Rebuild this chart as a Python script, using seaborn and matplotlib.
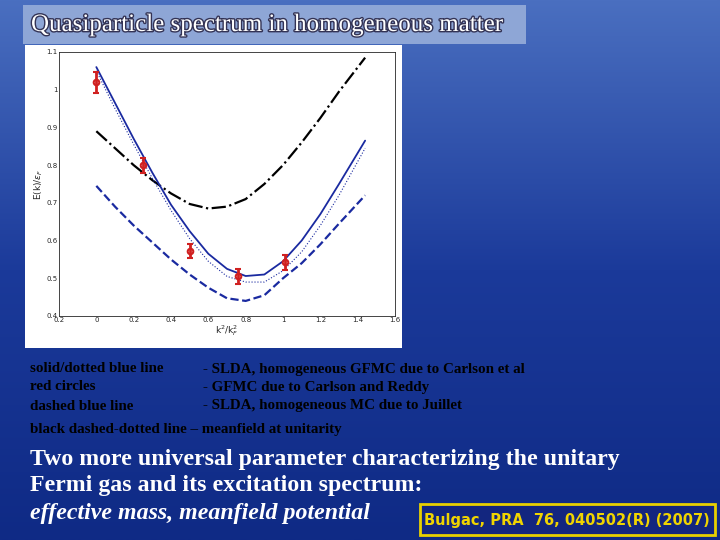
import numpy as np
import matplotlib
matplotlib.use("Agg")
import matplotlib.pyplot as plt
import matplotlib.patheffects as pe
import seaborn as sns

sns.set_style("white")

k2 = [0, 0.1, 0.2, 0.3, 0.4, 0.5, 0.6, 0.7, 0.8, 0.9, 1.0, 1.1, 1.2, 1.3, 1.44]
slda_solid = [1.06, 0.965, 0.87, 0.78, 0.695, 0.625, 0.565, 0.525, 0.506, 0.51, 0.545, 0.6, 0.67, 0.75, 0.865]
slda_dotted = [1.05, 0.95, 0.855, 0.765, 0.68, 0.605, 0.545, 0.505, 0.49, 0.49, 0.52, 0.57, 0.64, 0.72, 0.845]
meanfield = [0.89, 0.845, 0.80, 0.76, 0.725, 0.697, 0.685, 0.69, 0.71, 0.75, 0.80, 0.86, 0.925, 0.995, 1.085]
slda_mc = [0.745, 0.69, 0.64, 0.595, 0.55, 0.51, 0.475, 0.447, 0.44, 0.455, 0.50, 0.54, 0.59, 0.645, 0.72]

gfmc_x = [0, 0.25, 0.5, 0.76, 1.01]
gfmc_y = [1.02, 0.80, 0.573, 0.505, 0.543]
gfmc_err = [0.028, 0.02, 0.018, 0.02, 0.02]

fig = plt.figure(figsize=(7.2, 5.4), dpi=100)

# background gradient
bg = fig.add_axes([0, 0, 1, 1])
bg.set_zorder(-5)
grad = np.linspace(0, 1, 256).reshape(-1, 1)
cmap = matplotlib.colors.LinearSegmentedColormap.from_list("bg", ["#4a6fc0", "#1b3a9a", "#0f2a85"])
bg.imshow(grad, aspect="auto", cmap=cmap, extent=[0, 1, 0, 1], origin="upper")
bg.set_axis_off()

W, H = 720, 540
def box(x0, y0, x1, y1):
    return [x0 / W, 1 - y1 / H, (x1 - x0) / W, (y1 - y0) / H]

# title
fig.patches.append(plt.Rectangle((23 / W, 1 - 44 / H), 503 / W, 39 / H, transform=fig.transFigure,
                                 facecolor="#8ea6d6", edgecolor="none", zorder=0))
fig.text(31 / W, 1 - 25 / H, "Quasiparticle spectrum in homogeneous matter", family="Liberation Serif",
         fontsize=18, color="white", va="center",
         path_effects=[pe.withStroke(linewidth=2, foreground="#333355")])

# white panel
fig.patches.append(plt.Rectangle((25 / W, 1 - 348 / H), 377 / W, 303 / H, transform=fig.transFigure,
                                 facecolor="white", edgecolor="none", zorder=0))

ax = fig.add_axes(box(59, 52, 395, 316))
ax.set_zorder(3)
ax.plot(k2, meanfield, color="black", ls="-.", lw=1.6)
ax.plot(k2, slda_dotted, color="#1a2aa0", ls=":", lw=0.8)
ax.plot(k2, slda_solid, color="#1a2aa0", ls="-", lw=1.3)
ax.plot(k2, slda_mc, color="#1a2aa0", ls="--", lw=1.6)
ax.errorbar(gfmc_x, gfmc_y, yerr=gfmc_err, fmt="o", mfc="none", mec="#d02020", ecolor="#d02020",
            ms=4, mew=1.5, elinewidth=2, capsize=2)
ax.set_xticks([-0.2, 0, 0.2, 0.4, 0.6, 0.8, 1, 1.2, 1.4, 1.6])
ax.set_xticklabels(["0.2", "0", "0.2", "0.4", "0.6", "0.8", "1", "1.2", "1.4", "1.6"])
ax.set_xlim(-0.2, 1.6)
ax.set_ylim(0.4, 1.1)
ax.set_yticks([0.4, 0.5, 0.6, 0.7, 0.8, 0.9, 1.0, 1.1])
ax.set_yticklabels(["0.4", "0.5", "0.6", "0.7", "0.8", "0.9", "1", "1.1"])
ax.tick_params(labelsize=5, direction="in", length=2, pad=1)
for s in ax.spines.values():
    s.set_linewidth(0.6)
ax.set_xlabel(r"k$^2$/k$_F^2$", fontsize=6.5, labelpad=0)
ax.set_ylabel(r"E(k)/$\epsilon_F$", fontsize=6.5, labelpad=1)

sf = dict(family="Liberation Serif", fontsize=10.8, fontweight="bold", color="black", va="center")
rows = [("solid/dotted blue line", "- SLDA, homogeneous GFMC due to Carlson et al", 369),
        ("red circles", "- GFMC due to Carlson and Reddy", 387),
        ("dashed blue line", "- SLDA, homogeneous MC due to Juillet", 406)]
for a, b, y in rows:
    fig.text(30 / W, 1 - y / H, a, **sf)
    fig.text(203 / W, 1 - y / H, b, **sf)
fig.text(30 / W, 1 - 430 / H, "black dashed-dotted line \u2013 meanfield at unitarity", **sf)

bf = dict(family="Liberation Serif", fontsize=17.2, fontweight="bold", color="white", va="center")
fig.text(30 / W, 1 - 459 / H, "Two more universal parameter characterizing the unitary", **bf)
fig.text(30 / W, 1 - 486 / H, "Fermi gas and its excitation spectrum:", **bf)
fig.text(30 / W, 1 - 514 / H, "effective mass, meanfield potential", style="italic", **bf)

fig.patches.append(plt.Rectangle((420 / W, 1 - 535 / H), 295 / W, 31 / H, transform=fig.transFigure,
                                 facecolor="#13267f", edgecolor="#e8d000", lw=2, zorder=0))
fig.text(567 / W, 1 - 520 / H, "Bulgac, PRA  76, 040502(R) (2007)", family="DejaVu Sans", fontsize=10.5,
         fontweight="bold", color="#f0d400", ha="center", va="center")

fig.savefig("out.png", dpi=100)
